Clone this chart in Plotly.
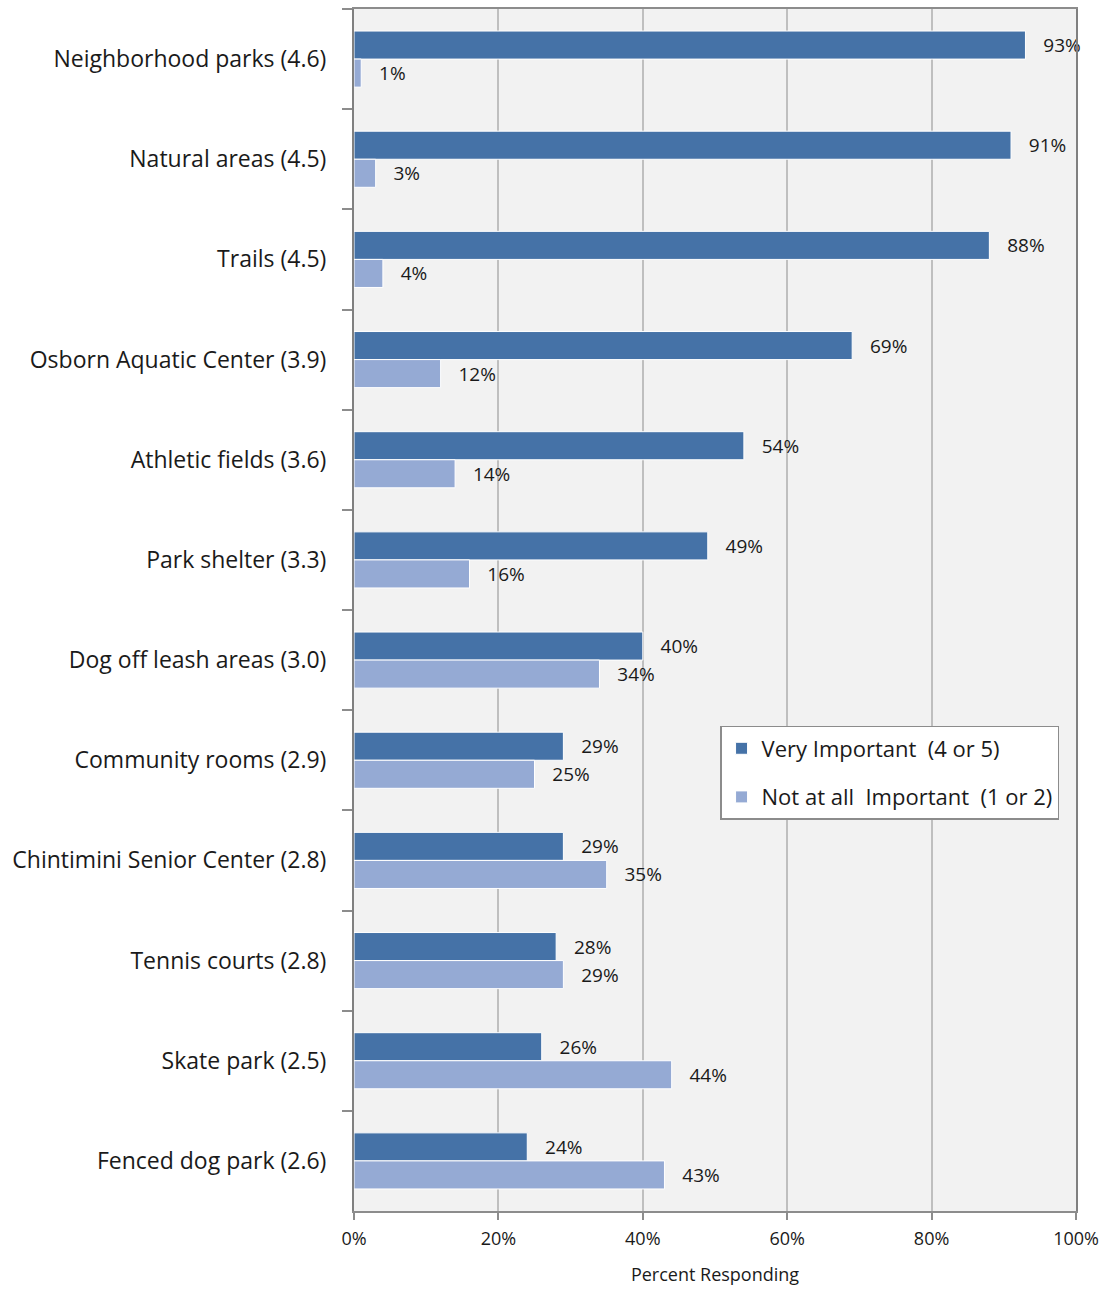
import plotly.graph_objects as go

# Facilities, with mean importance rating in parentheses
categories = [
    "Neighborhood parks (4.6)",
    "Natural areas (4.5)",
    "Trails (4.5)",
    "Osborn Aquatic Center (3.9)",
    "Athletic fields (3.6)",
    "Park shelter (3.3)",
    "Dog off leash areas (3.0)",
    "Community rooms (2.9)",
    "Chintimini Senior Center (2.8)",
    "Tennis courts (2.8)",
    "Skate park (2.5)",
    "Fenced dog park (2.6)",
]
very_important = [93, 91, 88, 69, 54, 49, 40, 29, 29, 28, 26, 24]
not_important = [1, 3, 4, 12, 14, 16, 34, 25, 35, 29, 44, 43]

series_names = ["Very Important  (4 or 5)", "Not at all  Important  (1 or 2)"]
x_ticks = [0, 20, 40, 60, 80, 100]
x_tick_labels = ["0%", "20%", "40%", "60%", "80%", "100%"]
x_title = "Percent Responding"

FONT = "'Open Sans', sans-serif"
DARK = "#4572A7"
LIGHT = "#95AAD4"
PAD = "\u00a0" * 3

fig = go.Figure()
for i, (name, vals, color) in enumerate([
    (series_names[0], very_important, DARK),
    (series_names[1], not_important, LIGHT),
]):
    fig.add_trace(go.Bar(
        y=categories,
        x=vals,
        orientation="h",
        name=name,
        legendgroup=f"g{i}",
        marker=dict(color=color, line=dict(color="white", width=1)),
        text=[f"{PAD}{v}%" for v in vals],
        textposition="outside",
        textfont=dict(family=FONT, size=19, color="#1a1a1a"),
        constraintext="none",
        cliponaxis=False,
    ))

fig.update_layout(
    width=1109,
    height=1290,
    margin=dict(l=354, r=33, t=9, b=79),
    paper_bgcolor="white",
    plot_bgcolor="#F2F2F2",
    barmode="group",
    bargap=0.44,
    bargroupgap=0,
    font=dict(family=FONT, color="#1a1a1a"),
    legend=dict(
        x=0.507, y=0.4035, xanchor="left", yanchor="top",
        bgcolor="white", bordercolor="#8c8c8c", borderwidth=1.5,
        font=dict(family=FONT, size=22, color="#1a1a1a"),
        traceorder="grouped",
        tracegroupgap=17,
        itemwidth=30,
    ),
    xaxis=dict(
        range=[0, 100],
        tickvals=x_ticks,
        ticktext=x_tick_labels,
        tickfont=dict(family=FONT, size=18),
        ticks="outside", ticklen=7, tickcolor="#8c8c8c", tickwidth=2,
        ticklabelstandoff=3,
        showgrid=True, gridcolor="#BFBFBF", gridwidth=2,
        showline=True, linecolor="#8c8c8c", linewidth=2, mirror=True,
        zeroline=False,
        title=dict(text=x_title, font=dict(family=FONT, size=18), standoff=20),
        automargin=False,
        fixedrange=True,
    ),
    yaxis=dict(
        type="category",
        autorange="reversed",
        tickfont=dict(family=FONT, size=23),
        ticks="outside", ticklen=10, tickcolor="#8c8c8c", tickwidth=2,
        tickson="boundaries",
        ticklabelstandoff=21,
        showgrid=False,
        showline=True, linecolor="#808080", linewidth=2, mirror=True,
        automargin=False,
        fixedrange=True,
    ),
)

fig.write_html("out.html")
